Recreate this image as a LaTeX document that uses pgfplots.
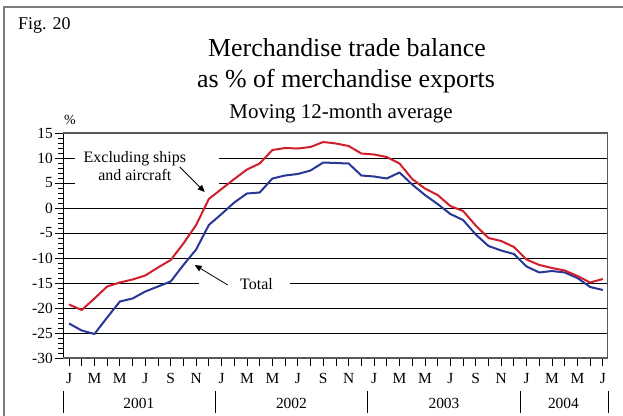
\documentclass[border=0pt]{standalone}
\usepackage{pgfplots}
\pgfplotsset{compat=1.18}
\usepackage{fontspec}
\setmainfont{Liberation Serif}
\usetikzlibrary{arrows.meta}
\definecolor{cred}{RGB}{208,30,42}
\definecolor{cblue}{RGB}{40,54,150}
\definecolor{framegray}{RGB}{125,125,125}
\definecolor{axisgray}{RGB}{90,90,90}
\begin{document}
\begin{tikzpicture}
\useasboundingbox (0,0) rectangle (623bp,416bp);
\draw[framegray, line width=1.5bp] (4bp,-2bp) -- (4bp,409bp) -- (625bp,409bp);
\node[anchor=base west, inner sep=0pt, font=\fontsize{18}{20}\selectfont] at (18bp,386bp) {Fig. 20};
\node[anchor=base, inner sep=0pt, font=\fontsize{26}{28}\selectfont] at (347bp,359bp) {Merchandise trade balance};
\node[anchor=base, inner sep=0pt, font=\fontsize{26}{28}\selectfont] at (346bp,328bp) {as \% of merchandise exports};
\node[anchor=base, inner sep=0pt, font=\fontsize{21}{23}\selectfont] at (341bp,297bp) {Moving 12-month average};
\node[anchor=base, inner sep=0pt, font=\fontsize{14}{16}\selectfont] at (70bp,291bp) {\%};
\begin{axis}[
  at={(63.3bp,58bp)}, anchor=south west,
  scale only axis, width=544bp, height=225bp,
  xmin=-0.45, xmax=42.35, ymin=-30, ymax=15,
  ytick={-30,-25,...,15},
  minor y tick num=4,
  ymajorgrids,
  major grid style={black, line width=0.8bp},
  xtick={0,...,42},
  xticklabels={J,,M,,M,,J,,S,,N,,J,,M,,M,,J,,S,,N,,J,,M,,M,,J,,S,,N,,J,,M,,M,,J},
  tick align=outside,
  tick pos=left,
  major tick length=8bp, minor tick length=5bp,
  tick style={black, line width=0.8bp},
  axis line style={draw=none},
  /pgf/number format/assume math mode=true,
  ticklabel style={font=\fontsize{15.5}{16}\selectfont},
  xticklabel style={yshift=-4bp},
  yticklabel style={xshift=1bp},
  clip=false,
]
\fill[white] (axis cs:0.45,3.8) rectangle (axis cs:11.8,11.5);
\fill[white] (axis cs:10.2,-13.6) rectangle (axis cs:17.4,-16.4);
\node[align=center, font=\fontsize{16}{18.3}\selectfont] at (axis cs:5.18,8.4) {Excluding ships\\and aircraft};
\node[font=\fontsize{16}{18}\selectfont] at (axis cs:14.75,-15.2) {Total};
\addplot[cblue, line width=2bp, line join=round] coordinates {
(0,-23.1) (1,-24.5) (2,-25.2) (3,-21.9) (4,-18.7) (5,-18.1) (6,-16.7) (7,-15.7) (8,-14.7) (9,-11.4)
(10,-8.3) (11,-3.4) (12,-1.2) (13,1.1) (14,2.9) (15,3.1) (16,5.9) (17,6.5) (18,6.8) (19,7.5)
(20,9.1) (21,9.0) (22,8.9) (23,6.5) (24,6.3) (25,5.9) (26,7.1) (27,4.7) (28,2.6) (29,0.8)
(30,-1.2) (31,-2.4) (32,-5.3) (33,-7.6) (34,-8.5) (35,-9.2) (36,-11.7) (37,-12.9) (38,-12.6) (39,-12.9)
(40,-14.0) (41,-15.8) (42,-16.4)
};
\addplot[cred, line width=2bp, line join=round] coordinates {
(0,-19.3) (1,-20.4) (2,-18.1) (3,-15.7) (4,-14.9) (5,-14.3) (6,-13.5) (7,-11.9) (8,-10.4) (9,-7.1)
(10,-3.4) (11,1.8) (12,3.8) (13,5.8) (14,7.7) (15,8.9) (16,11.6) (17,12.0) (18,11.9) (19,12.2)
(20,13.2) (21,12.9) (22,12.4) (23,10.9) (24,10.7) (25,10.2) (26,8.9) (27,5.8) (28,3.9) (29,2.6)
(30,0.4) (31,-0.6) (32,-3.5) (33,-6.0) (34,-6.6) (35,-7.8) (36,-10.3) (37,-11.4) (38,-12.0) (39,-12.5)
(40,-13.6) (41,-14.9) (42,-14.2)
};
\draw[black, line width=0.8bp, -{Triangle[length=7bp,width=6bp]}] (axis cs:8.71,8.2) -- (axis cs:10.68,3.2);
\draw[black, line width=0.8bp, -{Triangle[length=7bp,width=6bp]}] (axis cs:12.49,-15.4) -- (axis cs:9.89,-11.4);
\draw[black, line width=0.9bp] (rel axis cs:0,0) -- (rel axis cs:0,1);
\draw[axisgray, line width=1.4bp] (rel axis cs:0,1) -- (rel axis cs:1,1) -- (rel axis cs:1,0) -- (rel axis cs:0,0);
\draw[black, line width=0.8bp] ([yshift=-33bp]axis cs:-0.45,-30) -- ([yshift=-55bp]axis cs:-0.45,-30);
\draw[black, line width=0.8bp] ([yshift=-33bp]axis cs:11.5,-30) -- ([yshift=-55bp]axis cs:11.5,-30);
\draw[black, line width=0.8bp] ([yshift=-33bp]axis cs:23.5,-30) -- ([yshift=-55bp]axis cs:23.5,-30);
\draw[black, line width=0.8bp] ([yshift=-33bp]axis cs:35.5,-30) -- ([yshift=-55bp]axis cs:35.5,-30);
\draw[black, line width=0.8bp] ([yshift=-33bp]axis cs:42.4,-30) -- ([yshift=-55bp]axis cs:42.4,-30);
\node[anchor=base, font=\fontsize{15.5}{16}\selectfont, yshift=-50.5bp] at (axis cs:5.5,-30) {2001};
\node[anchor=base, font=\fontsize{15.5}{16}\selectfont, yshift=-50.5bp] at (axis cs:17.5,-30) {2002};
\node[anchor=base, font=\fontsize{15.5}{16}\selectfont, yshift=-50.5bp] at (axis cs:29.5,-30) {2003};
\node[anchor=base, font=\fontsize{15.5}{16}\selectfont, yshift=-50.5bp] at (axis cs:38.9,-30) {2004};
\end{axis}
\end{tikzpicture}
\end{document}
